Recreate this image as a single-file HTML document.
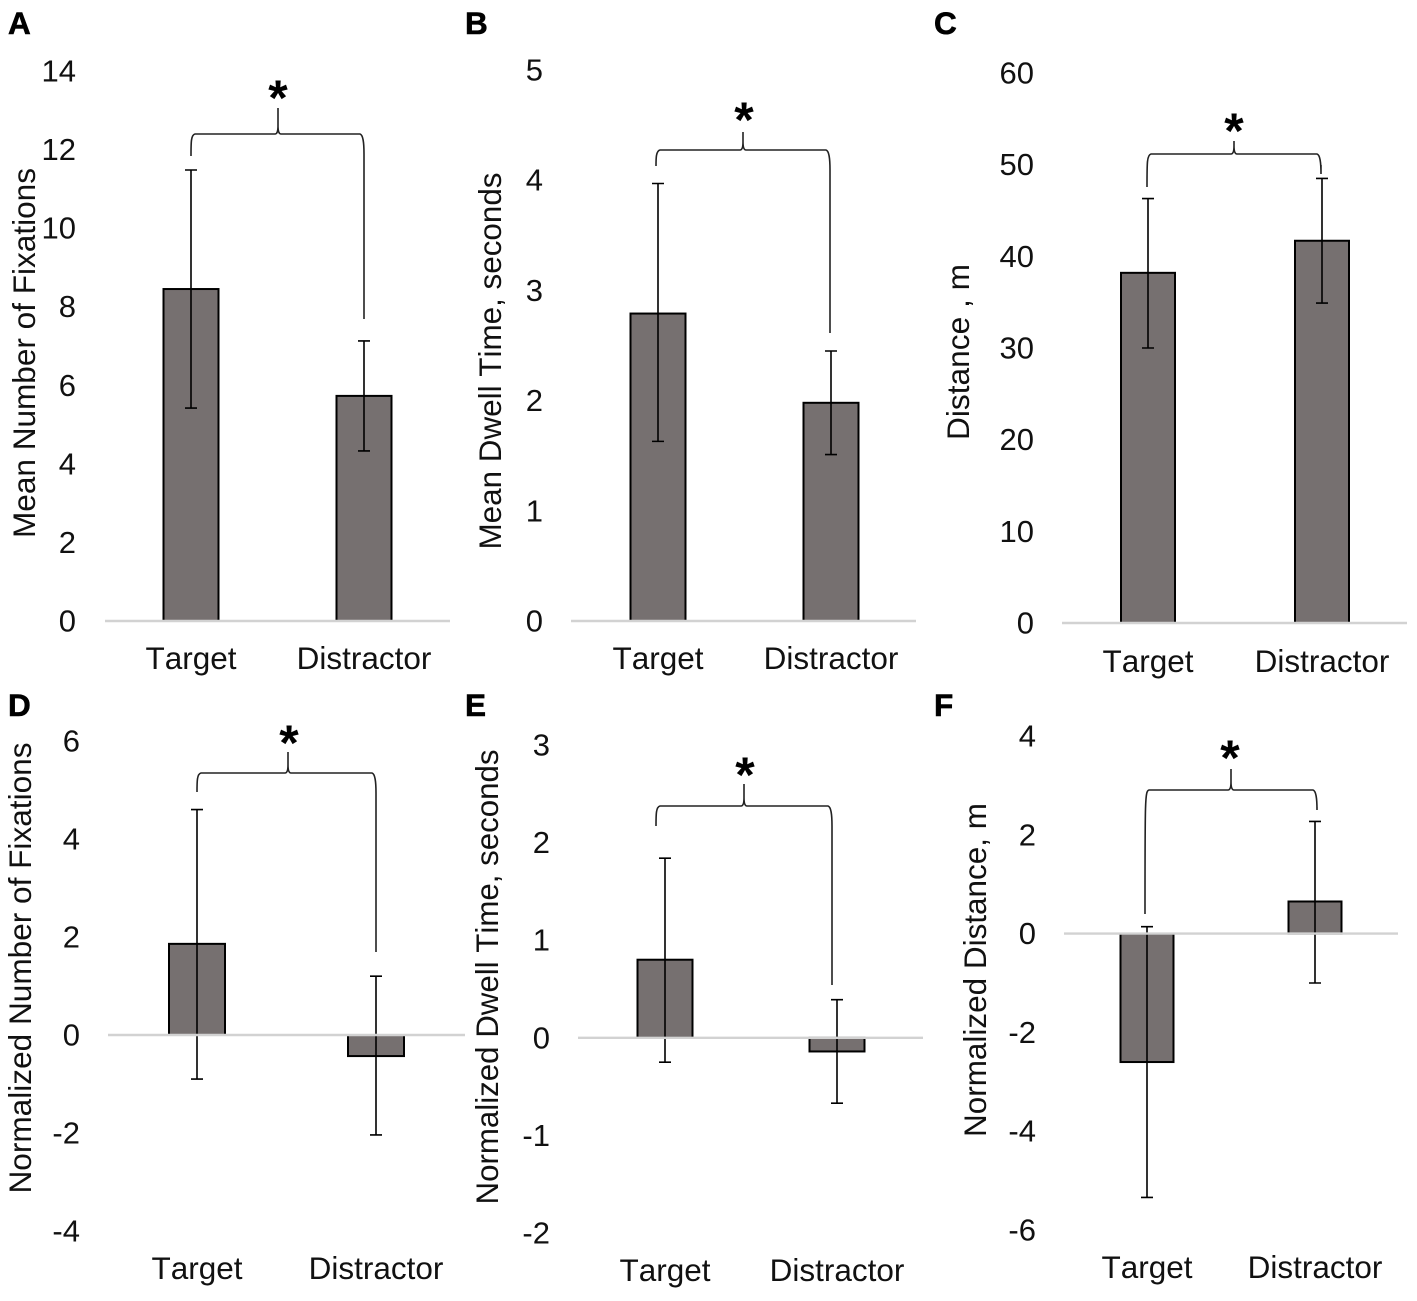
<!DOCTYPE html>
<html lang="en">
<head>
<meta charset="utf-8">
<title>Fixation, dwell time and distance bar charts</title>
<style>
html,body{margin:0;padding:0;background:#fff;}
svg{display:block;}
text{font-family:"Liberation Sans",Arial,sans-serif;fill:#111;font-kerning:none;}
</style>
</head>
<body>
<svg id="figure" xmlns="http://www.w3.org/2000/svg" width="1417" height="1301" viewBox="0 0 1417 1301"></svg>
<script>
const categories = ["Target", "Distractor"];

const ticksA = [14, 12, 10, 8, 6, 4, 2, 0];
const meansA = [8.45, 5.73];
const errHighA = [11.48, 7.13];
const errLowA = [5.42, 4.33];

const ticksB = [5, 4, 3, 2, 1, 0];
const meansB = [2.79, 1.98];
const errHighB = [3.97, 2.45];
const errLowB = [1.63, 1.51];

const ticksC = [60, 50, 40, 30, 20, 10, 0];
const meansC = [38.2, 41.7];
const errHighC = [46.3, 48.5];
const errLowC = [30.0, 34.9];

const ticksD = [6, 4, 2, 0, -2, -4];
const meansD = [1.86, -0.43];
const errHighD = [4.6, 1.2];
const errLowD = [-0.9, -2.04];

const ticksE = [3, 2, 1, 0, -1, -2];
const meansE = [0.8, -0.14];
const errHighE = [1.84, 0.39];
const errLowE = [-0.25, -0.67];

const ticksF = [4, 2, 0, -2, -4, -6];
const meansF = [-2.6, 0.65];
const errHighF = [0.14, 2.27];
const errLowF = [-5.34, -1.0];

const panels = [
  {id:"a", letter:"A", lx:8, ly:34, title:"Mean Number of Fixations", tx:35, ty:353, tlen:370,
   ticks:ticksA, means:meansA, hi:errHighA, lo:errLowA,
   top:71, bot:621, tickRight:76, axisL:105, axisR:450, c0:191, c1:364, bw:55, catY:669,
   brace:{l:191, le:156, y:134, r:364, re:319, m:278, tip:108, sx:278, sy:93}},
  {id:"b", letter:"B", lx:465, ly:34, title:"Mean Dwell Time, seconds", tx:501, ty:361, tlen:377,
   ticks:ticksB, means:meansB, hi:errHighB, lo:errLowB,
   top:70, bot:621, tickRight:543, axisL:571, axisR:916, c0:658, c1:831, bw:55, catY:669,
   brace:{l:656, le:166, y:150, r:830, re:333, m:743, tip:132, sx:744, sy:115}},
  {id:"c", letter:"C", lx:934, ly:34, title:"Distance , m", tx:969, ty:352, tlen:176,
   ticks:ticksC, means:meansC, hi:errHighC, lo:errLowC,
   top:73, bot:623, tickRight:1034, axisL:1062, axisR:1407, c0:1148, c1:1322, bw:54, catY:672,
   brace:{l:1147, le:187, y:154, r:1321, re:165, m:1234, tip:141, sx:1234, sy:126}},
  {id:"d", letter:"D", lx:8, ly:716, title:"Normalized Number of Fixations", tx:31, ty:968, tlen:451,
   ticks:ticksD, means:meansD, hi:errHighD, lo:errLowD,
   top:741, bot:1231, tickRight:80, axisL:108, axisR:465, c0:197, c1:376, bw:56, catY:1279,
   brace:{l:197, le:792, y:773, r:376, re:952, m:288, tip:752, sx:289, sy:738}},
  {id:"e", letter:"E", lx:465, ly:716, title:"Normalized Dwell Time, seconds", tx:498, ty:977, tlen:455,
   ticks:ticksE, means:meansE, hi:errHighE, lo:errLowE,
   top:745, bot:1233, tickRight:550, axisL:578, axisR:923, c0:665, c1:837, bw:55, catY:1281,
   brace:{l:656, le:826, y:806, r:832, re:985, m:744, tip:784, sx:745, sy:770}},
  {id:"f", letter:"F", lx:934, ly:716, title:"Normalized Distance, m", tx:986, ty:970, tlen:334,
   ticks:ticksF, means:meansF, hi:errHighF, lo:errLowF,
   top:736, bot:1230, tickRight:1036, axisL:1064, axisR:1398, c0:1147, c1:1315, bw:53, catY:1278,
   brace:{l:1145, le:914, y:790, r:1317, re:807, m:1231, tip:769, sx:1230, sy:753}}
];

const NS = "http://www.w3.org/2000/svg";
const figure = document.getElementById("figure");

function make(parent, tag, attrs, content) {
  const node = document.createElementNS(NS, tag);
  for (const key in attrs) node.setAttribute(key, attrs[key]);
  if (content !== undefined) node.textContent = content;
  parent.appendChild(node);
  return node;
}

function bracePath(b) {
  return "M" + b.l + " " + b.le +
    " C" + b.l + " " + (b.y + 8) + " " + b.l + " " + (b.y + 1) + " " + (b.l + 4) + " " + b.y +
    " L" + (b.m - 3) + " " + b.y +
    " C" + (b.m - 1) + " " + b.y + " " + b.m + " " + (b.y - 3) + " " + b.m + " " + (b.y - 8) +
    " L" + b.m + " " + b.tip +
    " M" + b.m + " " + (b.y - 8) +
    " C" + b.m + " " + (b.y - 3) + " " + (b.m + 1) + " " + b.y + " " + (b.m + 3) + " " + b.y +
    " L" + (b.r - 4) + " " + b.y +
    " C" + (b.r - 1) + " " + (b.y + 1) + " " + b.r + " " + (b.y + 8) + " " + b.r + " " + (b.y + 20) +
    " L" + b.r + " " + b.re;
}

panels.forEach(function (p) {
  const maxTick = p.ticks[0];
  const minTick = p.ticks[p.ticks.length - 1];
  const yScale = function (v) {
    return p.top + (maxTick - v) * (p.bot - p.top) / (maxTick - minTick);
  };
  const centers = [p.c0, p.c1];
  const y0 = yScale(0);

  const group = make(figure, "g", {});
  
  

  const letter = make(group, "text", {x:p.lx, y:p.ly, "font-size":31.5, "font-weight":"bold", stroke:"#000", "stroke-width":0.6, style:"fill:#000"}, p.letter);
  
  

  const title = make(group, "text", {
    x:0, y:0, "font-size":31.5, "text-anchor":"middle",
    textLength:p.tlen, lengthAdjust:"spacingAndGlyphs",
    transform:"translate(" + p.tx + " " + p.ty + ") rotate(-90)"
  }, p.title);
  
  

  p.ticks.forEach(function (t) {
    const label = make(group, "text", {x:p.tickRight, y:yScale(t) + 10.5, "font-size":31, "text-anchor":"end"}, String(t));
    
    
  });

  categories.forEach(function (cat, i) {
    const cx = centers[i];
    const yv = yScale(p.means[i]);
    const bar = make(group, "rect", {
      x:cx - p.bw / 2, y:Math.min(yv, y0), width:p.bw, height:Math.abs(yv - y0),
      fill:"#767070", stroke:"#000", "stroke-width":2
    });
    
    

    const yHi = yScale(p.hi[i]);
    const yLo = yScale(p.lo[i]);
    const err = make(group, "path", {
      d:"M" + cx + " " + yHi + " L" + cx + " " + yLo +
        " M" + (cx - 6) + " " + yHi + " L" + (cx + 6) + " " + yHi +
        " M" + (cx - 6) + " " + yLo + " L" + (cx + 6) + " " + yLo,
      fill:"none", stroke:"#000", "stroke-width":1.6
    });
    
    

    const catLabel = make(group, "text", {x:cx, y:p.catY, "font-size":31.5, "text-anchor":"middle"}, cat);
    
    
  });

  const axis = make(group, "line", {x1:p.axisL, x2:p.axisR, y1:y0, y2:y0, stroke:"#d2d2d2", "stroke-width":2.4});
  
  

  const brace = make(group, "path", {d:bracePath(p.brace), fill:"none", stroke:"#222", "stroke-width":1.6});
  
  

  const star = make(group, "text", {x:p.brace.sx, y:p.brace.sy + 22, "font-size":50, "font-weight":"bold", "text-anchor":"middle", style:"fill:#000"}, "*");
  
  
});
</script>
</body>
</html>
